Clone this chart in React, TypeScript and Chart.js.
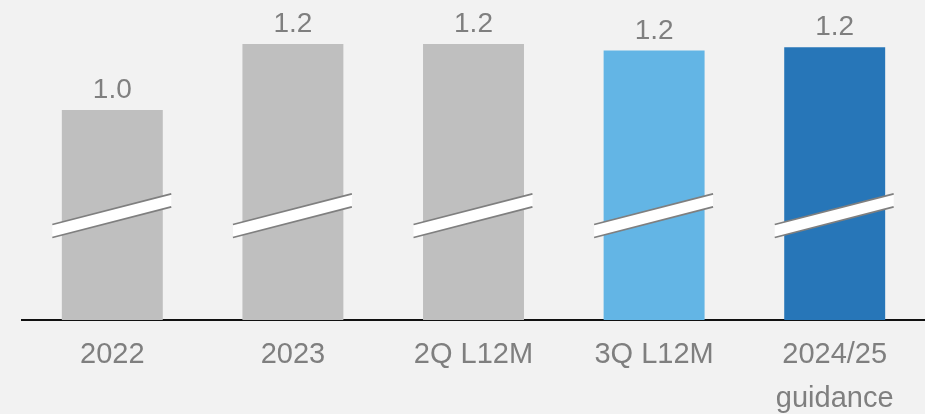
import React, { useEffect, useRef } from "react";
import { Chart, registerables } from "chart.js";

Chart.register(...registerables);

const categories: (string | string[])[] = ["2022", "2023", "2Q L12M", "3Q L12M", ["2024/25", "guidance"]];
const values: number[] = [1.0, 1.2, 1.2, 1.18, 1.19];
const barColors: string[] = ["#bfbfbf", "#bfbfbf", "#bfbfbf", "#63b5e5", "#2776b8"];
const axisMin = 0.3636;
const axisMax = 1.3333;
const breakValue = 0.68;

const FONT = '"Liberation Sans", Arial, sans-serif';
const TEXT_COLOR = "#7f7f7f";

const labelsAndBreaks = {
  id: "labelsAndBreaks",
  afterDatasetsDraw(chart: any) {
    const ctx = chart.ctx as CanvasRenderingContext2D;
    const meta = chart.getDatasetMeta(0);
    const yScale = chart.scales.y;
    const by = yScale.getPixelForValue(breakValue);
    meta.data.forEach((bar: any, i: number) => {
      const { x, y, width } = bar.getProps(["x", "y", "width"], true);
      const x0 = x - width / 2 - 9.5;
      const x1 = x + width / 2 + 8.5;
      const slope = -0.257;
      const th = 13;
      const yTop = (xx: number) => by - th / 2 + (xx - x) * slope;
      ctx.save();
      ctx.beginPath();
      ctx.moveTo(x0, yTop(x0));
      ctx.lineTo(x1, yTop(x1));
      ctx.lineTo(x1, yTop(x1) + th);
      ctx.lineTo(x0, yTop(x0) + th);
      ctx.closePath();
      ctx.fillStyle = "#ffffff";
      ctx.fill();
      ctx.strokeStyle = "#7f7f7f";
      ctx.lineWidth = 1.8;
      ctx.beginPath();
      ctx.moveTo(x0, yTop(x0));
      ctx.lineTo(x1, yTop(x1));
      ctx.moveTo(x0, yTop(x0) + th);
      ctx.lineTo(x1, yTop(x1) + th);
      ctx.stroke();

      ctx.fillStyle = TEXT_COLOR;
      ctx.font = `28px ${FONT}`;
      ctx.textAlign = "center";
      ctx.textBaseline = "alphabetic";
      ctx.fillText(values[i].toFixed(1), x, y - 12);
      ctx.restore();
    });
  },
};

export default function App() {
  const ref = useRef<HTMLCanvasElement | null>(null);

  useEffect(() => {
    document.body.style.margin = "0";
    document.body.style.background = "#f2f2f2";
    if (!ref.current) return;
    const chart = new Chart(ref.current, {
      type: "bar",
      data: {
        labels: categories as any,
        datasets: [
          {
            data: values,
            backgroundColor: barColors,
            borderWidth: 0,
            barPercentage: 0.559,
            categoryPercentage: 1,
          },
        ],
      },
      options: {
        animation: false,
        responsive: false,
        devicePixelRatio: 1,
        layout: { padding: { left: 22, right: 0, top: 0, bottom: 0 } },
        plugins: {
          legend: { display: false },
          tooltip: { enabled: false },
        },
        scales: {
          x: {
            grid: { display: false, drawTicks: false },
            border: { display: true, color: "#111111", width: 2 },
            ticks: {
              color: TEXT_COLOR,
              font: { family: FONT, size: 29, lineHeight: 44 / 29 },
              padding: 13,
              maxRotation: 0,
              autoSkip: false,
            },
            afterFit: (scale: any) => {
              scale.height = 94;
            },
          },
          y: {
            display: false,
            min: axisMin,
            max: axisMax,
          },
        },
      },
      plugins: [labelsAndBreaks],
    });
    return () => chart.destroy();
  }, []);

  return (
    <div style={{ width: 925, height: 414, background: "#f2f2f2" }}>
      <canvas ref={ref} width={925} height={414} style={{ display: "block" }} />
    </div>
  );
}
